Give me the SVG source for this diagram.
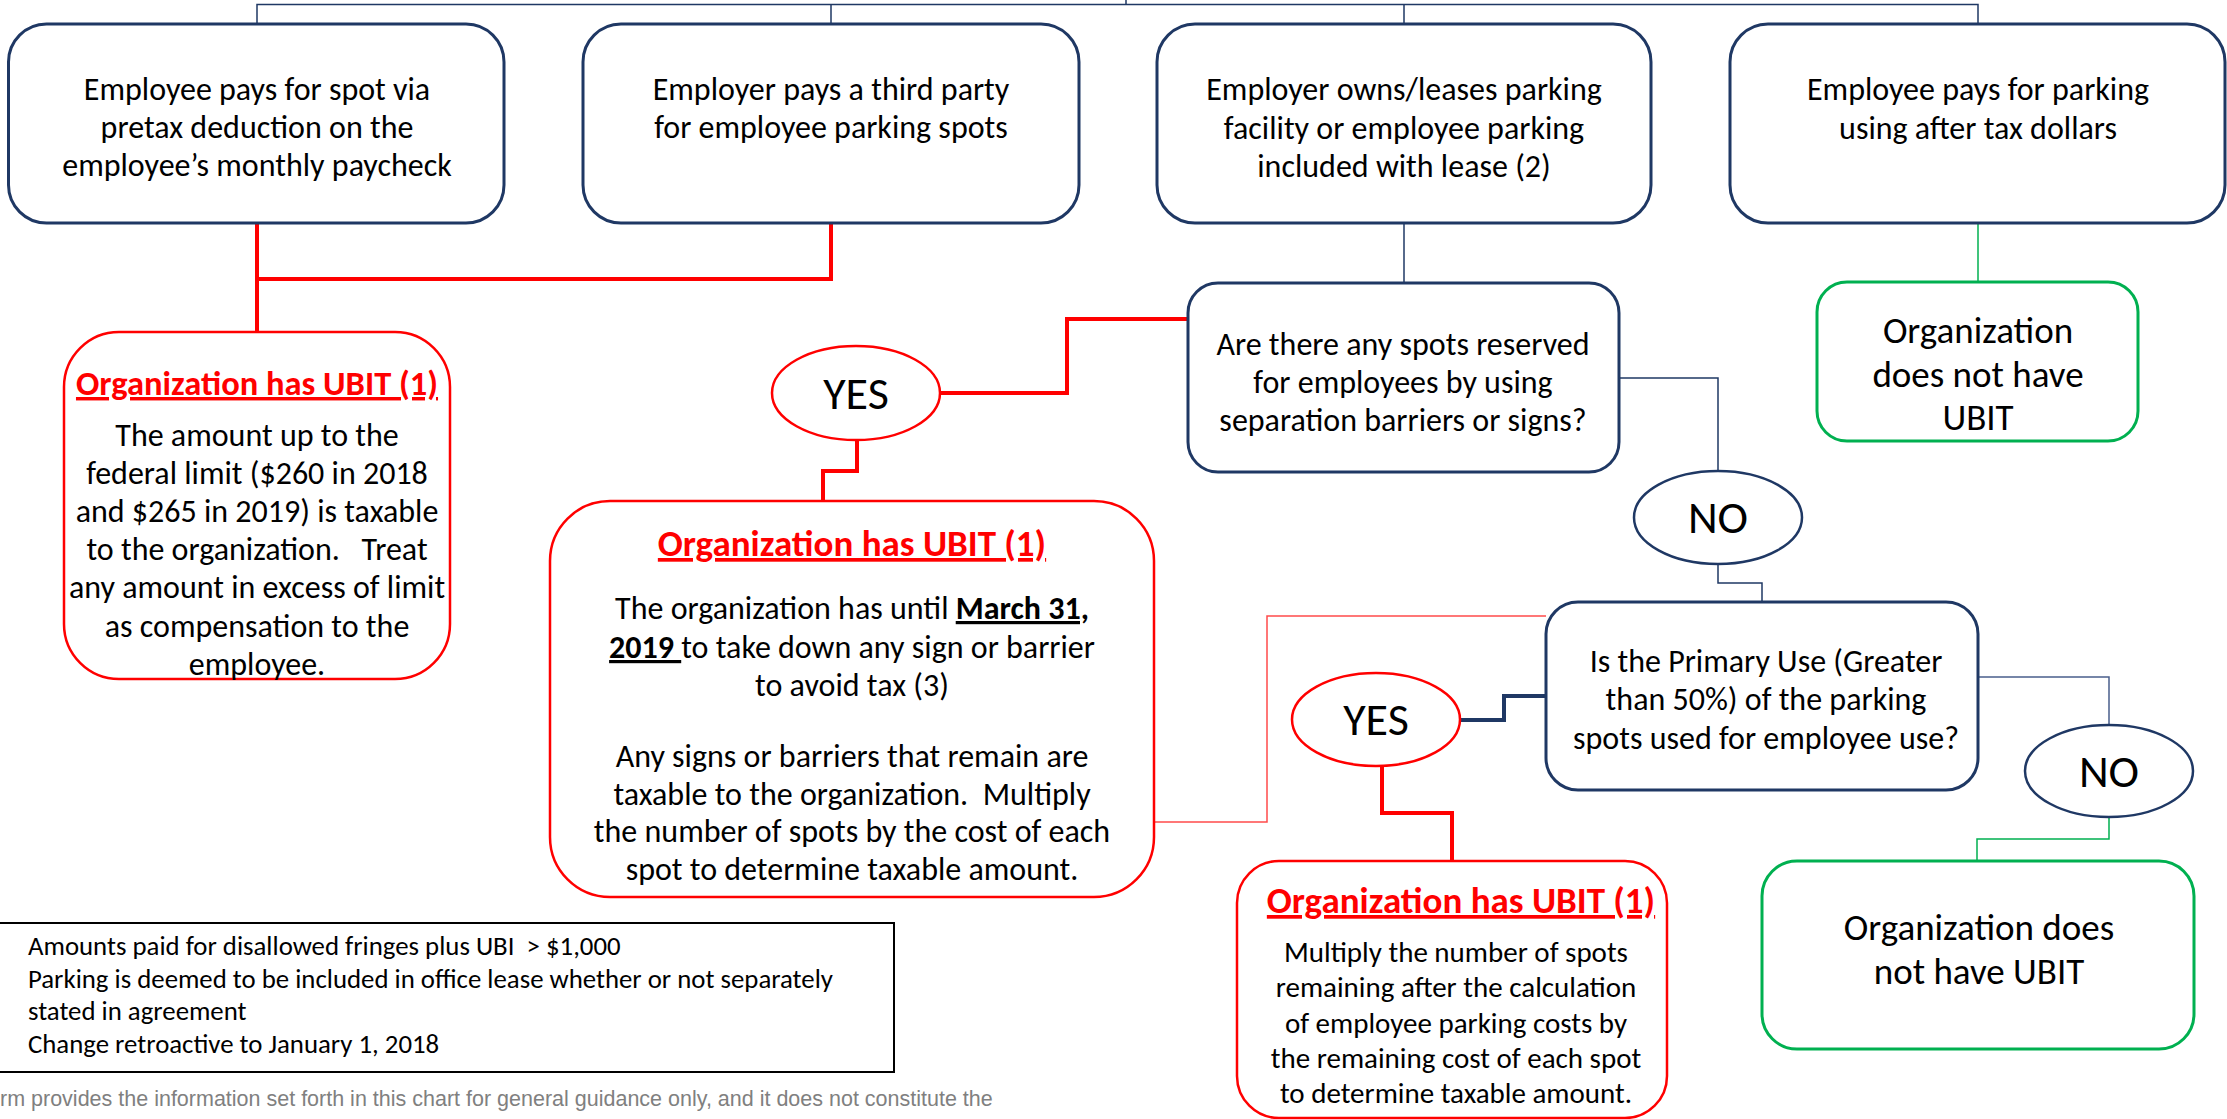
<svg xmlns="http://www.w3.org/2000/svg" width="2227" height="1119" viewBox="0 0 2227 1119">
  <style>
    text { font-family: Carlito, Calibri, Lato, "Liberation Sans", sans-serif; fill: #000; }
    .box-navy { fill: #fff; stroke: #1f3864; stroke-width: 3; }
    .box-red { fill: #fff; stroke: #ff0000; stroke-width: 2.5; }
    .box-green { fill: #fff; stroke: #00b050; stroke-width: 3; }
    .oval-red { fill: #fff; stroke: #ff0000; stroke-width: 2.5; }
    .oval-navy { fill: #fff; stroke: #1f3864; stroke-width: 2.5; }
    .t32 { font-size: 32px; text-anchor: middle; }
    .t29 { font-size: 29px; text-anchor: middle; }
    .t37 { font-size: 37px; text-anchor: middle; }
    .t46 { font-size: 46px; text-anchor: middle; }
    .head { font-weight: bold; fill: #ff0000; text-decoration: underline; text-anchor: middle; }
    .note { font-size: 26.8px; }
    .disc { font-family: "Liberation Sans", Arial, sans-serif; font-size: 21.5px; fill: #808080; }
    .c-navy { fill: none; stroke: #1f3864; stroke-width: 1.5; }
    .c-navy-light { fill: none; stroke: #4a5f8c; stroke-width: 1.5; }
    .c-navy-thick { fill: none; stroke: #1f3864; stroke-width: 4; }
    .c-red { fill: none; stroke: #ff0000; stroke-width: 4; }
    .c-red-thin { fill: none; stroke: #ff4b4b; stroke-width: 1.5; }
    .c-green { fill: none; stroke: #00b050; stroke-width: 1.5; }
  </style>

  <!-- connectors -->
  <g id="connectors">
    <path class="c-navy" d="M257,24 V4.5 H1978 V24 M831,4.5 V24 M1404,4.5 V24 M1126,0 V4.5"/>
    <path class="c-red" d="M257,223 V279 H831 V223 M257,279 V332"/>
    <path class="c-navy" d="M1404,223 V283"/>
    <path class="c-green" d="M1978,223 V282"/>
    <path class="c-red" d="M1188,319 H1067 V393 H940"/>
    <path class="c-red" d="M857,440 V471 H823 V501"/>
    <path class="c-navy" d="M1619,378 H1718 V471"/>
    <path class="c-navy" d="M1718,564 V583 H1762 V602"/>
    <path class="c-red-thin" d="M1154,822 H1267 V616 H1546"/>
    <path class="c-navy-thick" d="M1546,696 H1504 V720 H1460"/>
    <path class="c-red" d="M1382,766 V813 H1452 V861"/>
    <path class="c-navy-light" d="M1978,677 H2109 V725"/>
    <path class="c-green" d="M2109,817 V839 H1977 V861"/>
  </g>

  <!-- top row -->
  <g id="pretax">
    <rect class="box-navy" x="8.5" y="24" width="495.5" height="199" rx="38"/>
    <text class="t32" x="257" y="100">Employee pays for spot via</text>
    <text class="t32" x="257" y="138">pretax deduction on the</text>
    <text class="t32" x="257" y="176">employee’s monthly paycheck</text>
  </g>
  <g id="third-party">
    <rect class="box-navy" x="583" y="24" width="496" height="199" rx="38"/>
    <text class="t32" x="831" y="100">Employer pays a third party</text>
    <text class="t32" x="831" y="138">for employee parking spots</text>
  </g>
  <g id="owns-leases">
    <rect class="box-navy" x="1157" y="24" width="494" height="199" rx="38"/>
    <text class="t32" x="1404" y="100">Employer owns/leases parking</text>
    <text class="t32" x="1404" y="139">facility or employee parking</text>
    <text class="t32" x="1404" y="177">included with lease (2)</text>
  </g>
  <g id="after-tax">
    <rect class="box-navy" x="1730" y="24" width="495" height="199" rx="38"/>
    <text class="t32" x="1978" y="100">Employee pays for parking</text>
    <text class="t32" x="1978" y="139">using after tax dollars</text>
  </g>

  <!-- left outcome -->
  <g id="ubit-pretax">
    <rect class="box-red" x="64" y="332" width="386" height="347" rx="55"/>
    <text class="head" x="257" y="395" style="font-size:34.5px">Organization has UBIT (1)</text>
    <text class="t32" x="257" y="446">The amount up to the</text>
    <text class="t32" x="257" y="484">federal limit ($260 in 2018</text>
    <text class="t32" x="257" y="522">and $265 in 2019) is taxable</text>
    <text class="t32" x="257" y="560" xml:space="preserve">to the organization.   Treat</text>
    <text class="t32" x="257" y="598">any amount in excess of limit</text>
    <text class="t32" x="257" y="637">as compensation to the</text>
    <text class="t32" x="257" y="675">employee.</text>
  </g>

  <!-- reserved spots question -->
  <g id="reserved-question">
    <rect class="box-navy" x="1188" y="283" width="431" height="189" rx="30"/>
    <text class="t32" x="1403" y="355">Are there any spots reserved</text>
    <text class="t32" x="1403" y="393">for employees by using</text>
    <text class="t32" x="1403" y="431">separation barriers or signs?</text>
  </g>
  <g id="no-ubit-after-tax">
    <rect class="box-green" x="1817" y="282" width="321" height="159" rx="30"/>
    <text class="t37" x="1978" y="343">Organization</text>
    <text class="t37" x="1978" y="387">does not have</text>
    <text class="t37" x="1978" y="430">UBIT</text>
  </g>
  <g id="yes-reserved">
    <ellipse class="oval-red" cx="856" cy="393" rx="84" ry="47"/>
    <text class="t46" x="856" y="409">YES</text>
  </g>
  <g id="no-reserved">
    <ellipse class="oval-navy" cx="1718" cy="517.5" rx="84" ry="46.5"/>
    <text class="t46" x="1718" y="533">NO</text>
  </g>

  <!-- reserved spots outcome -->
  <g id="ubit-reserved">
    <rect class="box-red" x="550" y="501" width="604" height="396" rx="60"/>
    <text class="head" x="852" y="556" style="font-size:37px">Organization has UBIT (1)</text>
    <text class="t32" x="852" y="619" xml:space="preserve">The organization has until <tspan font-weight="bold" text-decoration="underline">March 31,</tspan></text>
    <text class="t32" x="852" y="658" xml:space="preserve"><tspan font-weight="bold" text-decoration="underline">2019 </tspan>to take down any sign or barrier</text>
    <text class="t32" x="852" y="696">to avoid tax (3)</text>
    <text class="t32" x="852" y="767">Any signs or barriers that remain are</text>
    <text class="t32" x="852" y="805" xml:space="preserve">taxable to the organization.  Multiply</text>
    <text class="t32" x="852" y="842">the number of spots by the cost of each</text>
    <text class="t32" x="852" y="880">spot to determine taxable amount.</text>
  </g>

  <!-- primary use question -->
  <g id="primary-use-question">
    <rect class="box-navy" x="1546" y="602" width="432" height="188" rx="32"/>
    <text class="t32" x="1766" y="672">Is the Primary Use (Greater</text>
    <text class="t32" x="1766" y="710">than 50%) of the parking</text>
    <text class="t32" x="1766" y="749">spots used for employee use?</text>
  </g>
  <g id="yes-primary">
    <ellipse class="oval-red" cx="1376" cy="719.5" rx="84" ry="46.5"/>
    <text class="t46" x="1376" y="735">YES</text>
  </g>
  <g id="no-primary">
    <ellipse class="oval-navy" cx="2109" cy="771" rx="84" ry="46"/>
    <text class="t46" x="2109" y="787">NO</text>
  </g>
  <g id="ubit-primary">
    <rect class="box-red" x="1237" y="861" width="430" height="257" rx="42"/>
    <text class="head" x="1461" y="913" style="font-size:37px">Organization has UBIT (1)</text>
    <text class="t29" x="1456" y="962">Multiply the number of spots</text>
    <text class="t29" x="1456" y="997">remaining after the calculation</text>
    <text class="t29" x="1456" y="1033">of employee parking costs by</text>
    <text class="t29" x="1456" y="1068">the remaining cost of each spot</text>
    <text class="t29" x="1456" y="1103">to determine taxable amount.</text>
  </g>
  <g id="no-ubit-primary">
    <rect class="box-green" x="1762" y="861" width="432" height="188" rx="35"/>
    <text class="t37" x="1979" y="940">Organization does</text>
    <text class="t37" x="1979" y="984">not have UBIT</text>
  </g>

  <!-- footnotes -->
  <g id="footnotes">
    <rect x="-2" y="923" width="896" height="149" fill="#fff" stroke="#000" stroke-width="2"/>
    <text class="note" x="28" y="955" xml:space="preserve">Amounts paid for disallowed fringes plus UBI  &gt; $1,000</text>
    <text class="note" x="28" y="987.5">Parking is deemed to be included in office lease whether or not separately</text>
    <text class="note" x="28" y="1020">stated in agreement</text>
    <text class="note" x="28" y="1052.5">Change retroactive to January 1, 2018</text>
  </g>
  <g id="disclaimer">
    <text class="disc" x="0" y="1106">rm provides the information set forth in this chart for general guidance only, and it does not constitute the</text>
  </g>
</svg>
